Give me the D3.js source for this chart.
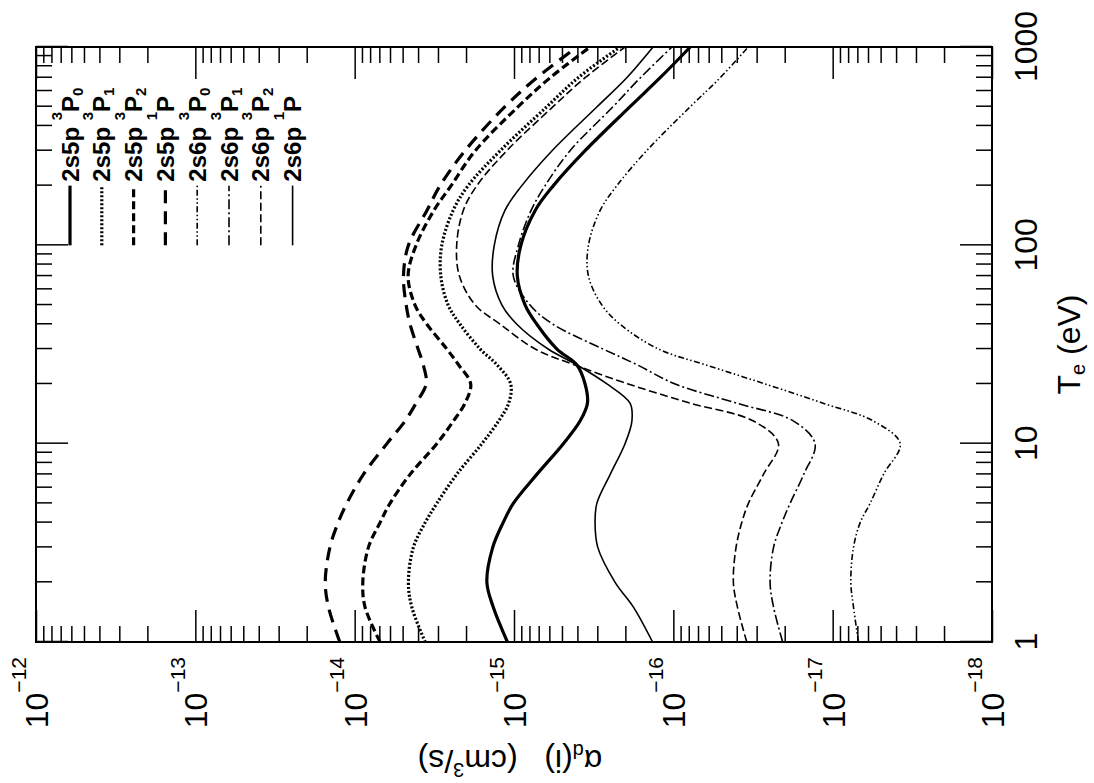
<!DOCTYPE html>
<html>
<head>
<meta charset="utf-8">
<script src="https://cdn.jsdelivr.net/npm/d3@7"></script>
<style>
  body { margin: 0; background: #fff; }
  text { font-family: "Liberation Sans", Arial, Helvetica, sans-serif; fill: #000; }
</style>
</head>
<body>
<svg id="chart" width="1094" height="783"></svg>
<script>
// electron temperature grid (eV)
const temps = [1, 1.5, 2, 3, 4, 5, 7, 10, 13, 16, 20, 25, 30, 40, 50, 70, 100, 150, 200, 300, 500, 700, 1000];

// alpha_d(i) in cm^3/s
const a5p3P0 = [1.10e-15, 1.35e-15, 1.48e-15, 1.36e-15, 1.17e-15, 1.01e-15, 7.19e-16, 4.90e-16, 3.85e-16, 3.46e-16, 3.58e-16, 4.04e-16, 5.38e-16, 7.19e-16, 8.51e-16, 9.53e-16, 9.06e-16, 7.36e-16, 5.66e-16, 3.58e-16, 1.87e-16, 1.21e-16, 7.83e-17];
const a5p3P1 = [3.61e-15, 4.38e-15, 4.60e-15, 4.28e-15, 3.61e-15, 3.05e-15, 2.29e-15, 1.59e-15, 1.25e-15, 1.08e-15, 1.05e-15, 1.28e-15, 1.63e-15, 2.18e-15, 2.59e-15, 2.88e-15, 2.84e-15, 2.41e-15, 1.94e-15, 1.22e-15, 6.22e-16, 3.96e-16, 2.16e-16];
const a5p3P2 = [6.93e-15, 8.61e-15, 8.89e-15, 8.20e-15, 6.93e-15, 6.00e-15, 4.49e-15, 3.05e-15, 2.40e-15, 2.03e-15, 1.87e-15, 2.23e-15, 2.64e-15, 3.52e-15, 4.18e-15, 4.62e-15, 4.12e-15, 3.18e-15, 2.48e-15, 1.75e-15, 9.42e-16, 5.93e-16, 3.33e-16];
const a5p1P = [1.24e-14, 1.46e-14, 1.53e-14, 1.43e-14, 1.27e-14, 1.12e-14, 8.81e-15, 6.28e-15, 4.83e-15, 4.12e-15, 3.56e-15, 3.71e-15, 4.00e-15, 4.49e-15, 4.75e-15, 4.94e-15, 4.60e-15, 3.52e-15, 2.91e-15, 2.03e-15, 1.14e-15, 7.19e-16, 4.02e-16];
const a6p3P0 = [6.89e-18, 7.40e-18, 7.69e-18, 7.40e-18, 6.72e-18, 5.82e-18, 4.80e-18, 3.77e-18, 5.54e-18, 1.15e-17, 2.65e-17, 6.31e-17, 1.24e-16, 2.16e-16, 2.81e-16, 3.41e-16, 3.41e-16, 2.88e-16, 2.26e-16, 1.47e-16, 7.83e-17, 5.08e-17, 3.39e-17];
const a6p3P1 = [2.06e-17, 2.35e-17, 2.47e-17, 2.35e-17, 2.08e-17, 1.85e-17, 1.52e-17, 1.29e-17, 1.76e-17, 3.99e-17, 9.75e-17, 1.69e-16, 2.76e-16, 5.69e-16, 7.93e-16, 1.01e-15, 9.38e-16, 7.81e-16, 6.38e-16, 4.45e-16, 2.39e-16, 1.61e-16, 1.02e-16];
const a6p3P2 = [3.46e-17, 3.96e-17, 4.20e-17, 4.04e-17, 3.72e-17, 3.38e-17, 2.72e-17, 2.19e-17, 3.14e-17, 7.83e-17, 1.92e-16, 4.20e-16, 7.36e-16, 1.22e-15, 1.75e-15, 2.20e-15, 2.29e-15, 2.08e-15, 1.71e-15, 1.11e-15, 5.69e-16, 3.58e-16, 2.01e-16];
const a6p1P = [1.35e-16, 1.78e-16, 2.32e-16, 2.98e-16, 3.10e-16, 3.02e-16, 2.49e-16, 2.01e-16, 1.82e-16, 1.87e-16, 2.61e-16, 4.04e-16, 6.11e-16, 9.60e-16, 1.19e-15, 1.36e-15, 1.33e-15, 1.14e-15, 8.93e-16, 5.77e-16, 3.01e-16, 1.96e-16, 1.34e-16];

// legend labels
const configs = ['2s5p', '2s5p', '2s5p', '2s5p', '2s6p', '2s6p', '2s6p', '2s6p'];
const mults = ['3', '3', '3', '1', '3', '3', '3', '1'];
const jvals = ['0', '1', '2', '', '0', '1', '2', ''];

const seriesVals = [a5p3P0, a5p3P1, a5p3P2, a5p1P, a6p3P0, a6p3P1, a6p3P2, a6p1P];
// line styles: width and dash pattern
const widths = [3.2, 3.2, 3.2, 3.2, 1.6, 1.6, 1.6, 1.6];
const dashes = [null, '2,2', '8,4', '13,8', '6,2.5,1.5,2.5,1.5,2.5', '10,3,2,3', '8,3.5', null];

// plot is drawn upright then turned a quarter turn to the left
const W = 595, H = 956;
const svg = d3.select('#chart');
const g = svg.append('g').attr('transform', 'translate(36,642) rotate(-90)');

const x = d3.scaleLog().domain([1, 1000]).range([0, W]);
const y = d3.scaleLog().domain([1e-12, 1e-18]).range([0, H]);

function isMajor(v) {
  const l = Math.log10(v);
  return Math.abs(l - Math.round(l)) < 1e-6;
}
const xMajor = x.ticks().filter(isMajor);
const xMinor = x.ticks().filter(v => !isMajor(v));
const yMajor = y.ticks().filter(isMajor);
const yMinor = y.ticks().filter(v => !isMajor(v));

function addAxis(axis, tr, vals, size, fmt, pad) {
  const a = g.append('g')
    .attr('transform', tr)
    .call(axis.tickValues(vals).tickSize(size).tickPadding(pad || 3).tickFormat(fmt || (() => '')));
  a.select('.domain').remove();
  a.selectAll('.tick line').attr('stroke', '#000').attr('stroke-width', 1.5);
  a.attr('font-family', null).attr('font-size', null);
  return a;
}

// T_e axis (bottom of the upright plot) with labels
const xb = addAxis(d3.axisBottom(x), 'translate(0,' + H + ')', xMajor, -32, d => String(d), 22);
xb.selectAll('.tick text').style('font-size', '32px');
addAxis(d3.axisBottom(x), 'translate(0,' + H + ')', xMinor, -16);
addAxis(d3.axisTop(x), 'translate(0,0)', xMajor, -32);
addAxis(d3.axisTop(x), 'translate(0,0)', xMinor, -16);

// alpha axis
const yl = addAxis(d3.axisLeft(y), 'translate(0,0)', yMajor, -32, () => '', 15);
addAxis(d3.axisLeft(y), 'translate(0,0)', yMinor, -16);
addAxis(d3.axisRight(y), 'translate(' + W + ',0)', yMajor, -32);
addAxis(d3.axisRight(y), 'translate(' + W + ',0)', yMinor, -16);

yl.selectAll('.tick text')
  .attr('dy', 11.5)
  .each(function(d) {
    const t = d3.select(this);
    const e = Math.round(Math.log10(d));
    t.append('tspan').style('font-size', '32px').text('10');
    t.append('tspan').attr('dy', -22.5).style('font-size', '21px').text('\u2212' + Math.abs(e));
  });

// frame
g.append('rect')
  .attr('x', 0).attr('y', 0).attr('width', W).attr('height', H)
  .attr('fill', 'none').attr('stroke', '#000').attr('stroke-width', 2);

// curves
const line = d3.line()
  .x(d => x(d[0]))
  .y(d => y(d[1]))
  .curve(d3.curveCatmullRom.alpha(0.5));

seriesVals.forEach((vals, i) => {
  g.append('path')
    .datum(temps.map((t, k) => [t, vals[k]]))
    .attr('d', line)
    .attr('fill', 'none')
    .attr('stroke', '#000')
    .attr('stroke-width', widths[i])
    .attr('stroke-dasharray', dashes[i]);
});

// legend
const leg = g.append('g');
configs.forEach((c, i) => {
  const yy = 34 + i * 31.8;
  leg.append('line')
    .attr('x1', x(100)).attr('x2', x(200))
    .attr('y1', yy).attr('y2', yy)
    .attr('stroke', '#000')
    .attr('stroke-width', widths[i])
    .attr('stroke-dasharray', dashes[i]);
  const t = leg.append('text')
    .attr('x', x(200) + 4).attr('y', yy + 8.5)
    .style('font-weight', 'bold');
  t.append('tspan').style('font-size', '24px').text(c + ' ');
  t.append('tspan').attr('dy', -17).style('font-size', '15px').text(mults[i]);
  t.append('tspan').attr('dy', 17).style('font-size', '24px').text('P');
  if (jvals[i]) t.append('tspan').attr('dy', 4).style('font-size', '15px').text(jvals[i]);
});

// axis titles
const xt = g.append('text')
  .attr('x', W / 2).attr('y', H + 88)
  .attr('text-anchor', 'middle')
  .style('font-size', '32px');
xt.append('tspan').text('T');
xt.append('tspan').attr('dy', 5).style('font-size', '20px').text('e');
xt.append('tspan').attr('dy', -5).text('  (eV)');

const yt = g.append('text')
  .attr('transform', 'translate(-108,' + (H / 2 - 4) + ') rotate(-90)')
  .attr('text-anchor', 'middle')
  .style('font-size', '32px')
  .attr('xml:space', 'preserve');
yt.append('tspan').text('\u03b1');
yt.append('tspan').attr('dy', 6).style('font-size', '20px').text('d');
yt.append('tspan').attr('dy', -6).text('(i)   (cm');
yt.append('tspan').attr('dy', -13).style('font-size', '20px').text('3');
yt.append('tspan').attr('dy', 13).text('/s)');
</script>
</body>
</html>
